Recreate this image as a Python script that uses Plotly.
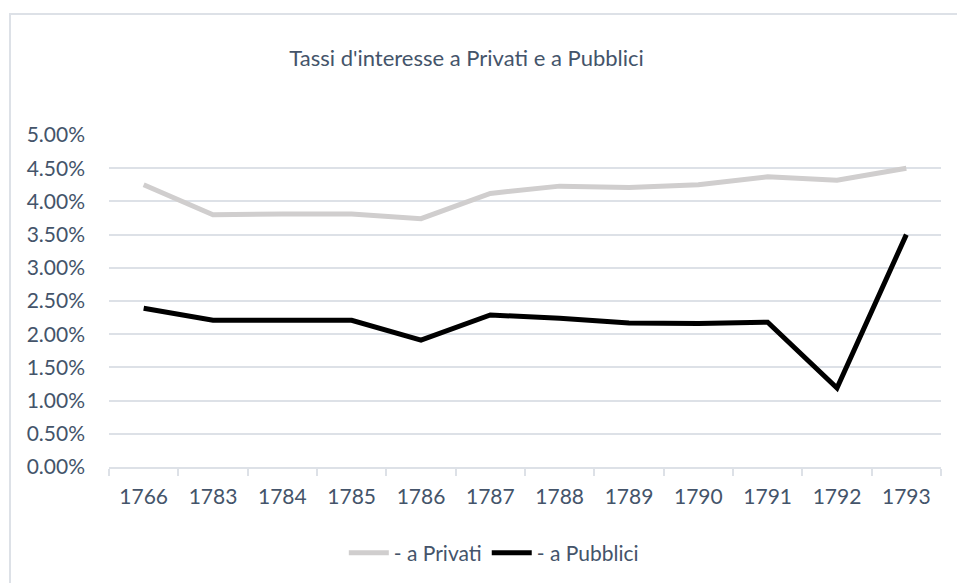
import plotly.graph_objects as go

# data
anni = ["1766", "1783", "1784", "1785", "1786", "1787", "1788", "1789", "1790", "1791", "1792", "1793"]
privati = [0.0425, 0.0380, 0.0381, 0.0381, 0.0374, 0.0412, 0.0423, 0.0421, 0.0425, 0.0437, 0.0432, 0.0450]
pubblici = [0.0239, 0.0221, 0.0221, 0.0221, 0.0191, 0.0229, 0.0224, 0.0217, 0.0216, 0.0218, 0.0119, 0.0350]

titolo = "Tassi d'interesse a Privati e a Pubblici"
nome1 = "- a Privati"
nome2 = "- a Pubblici"

testo = "#44546A"
griglia = "#dde1e7"

fig = go.Figure()
fig.add_trace(go.Scatter(x=anni, y=privati, mode="lines", name=nome1,
                         line=dict(color="#d0cece", width=5)))
fig.add_trace(go.Scatter(x=anni, y=pubblici, mode="lines", name=nome2,
                         line=dict(color="#000000", width=5)))

# chart-area frame (Excel style)
fig.add_shape(type="rect", xref="paper", yref="paper",
              x0=-0.119, x1=1.2, y0=-0.5, y1=1.3645,
              line=dict(color="#dde1e7", width=2), fillcolor="rgba(0,0,0,0)", layer="below")

fig.update_layout(
    width=957, height=583,
    margin=dict(l=109, r=16, t=135, b=116),
    paper_bgcolor="white", plot_bgcolor="white",
    font=dict(family="Lato", size=21, color=testo),
    title=dict(text=titolo, x=0.4875, xref="container", xanchor="center",
               y=1 - 58 / 583, yref="container", yanchor="middle",
               font=dict(size=22, color=testo)),
    legend=dict(orientation="h", x=0.516, xanchor="center", xref="container",
                y=1 - 553 / 583, yref="container", yanchor="middle",
                font=dict(size=21, color=testo), itemwidth=40),
    showlegend=True,
)
fig.update_xaxes(type="category", range=[-0.5, 11.5], showgrid=False, showline=True,
                 linecolor=griglia, linewidth=2,
                 ticks="outside", tickson="boundaries", ticklen=7, tickcolor=griglia, tickwidth=2,
                 ticklabelstandoff=10)
fig.update_yaxes(range=[0, 0.05], dtick=0.005, tickformat=".2%", showgrid=True,
                 gridcolor=griglia, gridwidth=2, zeroline=False, showline=False,
                 ticklabelstandoff=23)

fig.write_html("out.html", config={"displayModeBar": False},
               post_script="document.body.style.margin='0';document.body.style.overflow='hidden';")
